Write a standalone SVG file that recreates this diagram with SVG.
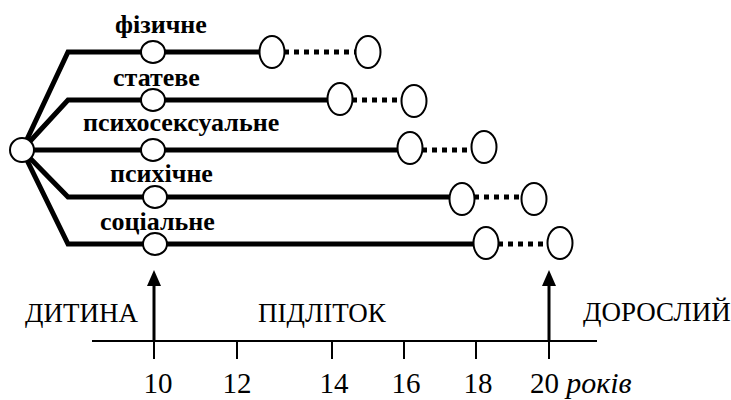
<svg xmlns="http://www.w3.org/2000/svg" width="731" height="400" viewBox="0 0 731 400">
<defs>
<style>
.thick{fill:none;stroke:#000;stroke-width:5;stroke-linejoin:miter}
.dot{fill:none;stroke:#000;stroke-width:5;stroke-dasharray:5 5}
.node{fill:#fff;stroke:#000;stroke-width:2}
.serif{font-family:'Times New Roman',Times,Tinos,'Liberation Serif','Noto Serif','DejaVu Serif',serif;fill:#000}
.lbl{font-weight:bold;font-size:26px}
.age{font-size:27px}
.num{font-size:29px}
.axis{stroke:#000;stroke-width:2;fill:none}
.arr{stroke:#000;stroke-width:3;fill:none}
</style>
</defs>
<g id="connectors">
<polyline class="thick" points="22,150 68,52 272,52"/>
<polyline class="thick" points="22,150 68,100 340,100"/>
<polyline class="thick" points="22,150 410,150"/>
<polyline class="thick" points="22,150 68,197 462,197"/>
<polyline class="thick" points="22,150 68,244 486,244"/>
<line class="dot" x1="284" y1="52" x2="356" y2="52"/>
<line class="dot" x1="352" y1="100" x2="402" y2="100"/>
<line class="dot" x1="422" y1="150" x2="472" y2="150"/>
<line class="dot" x1="474" y1="197" x2="522" y2="197"/>
<line class="dot" x1="498" y1="244" x2="548" y2="244"/>
</g>
<g id="root"><circle class="node" cx="22" cy="150" r="12"/></g>
<g id="physical">
<text class="serif lbl" x="115" y="33">фізичне</text>
<ellipse class="node" cx="153" cy="52" rx="12" ry="11"/>
<ellipse class="node" cx="272" cy="52" rx="12.5" ry="16"/>
<ellipse class="node" cx="368" cy="52" rx="12.5" ry="16"/>
</g>
<g id="sexual">
<text class="serif lbl" x="113" y="86">статеве</text>
<ellipse class="node" cx="153" cy="100" rx="12" ry="11"/>
<ellipse class="node" cx="340" cy="99" rx="12.5" ry="16"/>
<ellipse class="node" cx="414" cy="101" rx="12.5" ry="16"/>
</g>
<g id="psychosexual">
<text class="serif lbl" x="83" y="131">психосексуальне</text>
<ellipse class="node" cx="153" cy="150" rx="12" ry="11"/>
<ellipse class="node" cx="410" cy="148" rx="12.5" ry="16"/>
<ellipse class="node" cx="484" cy="147" rx="12.5" ry="16"/>
</g>
<g id="mental">
<text class="serif lbl" x="110" y="182">психічне</text>
<ellipse class="node" cx="155" cy="197" rx="12" ry="11"/>
<ellipse class="node" cx="462" cy="199" rx="12.5" ry="16"/>
<ellipse class="node" cx="534" cy="199" rx="12.5" ry="16"/>
</g>
<g id="social">
<text class="serif lbl" x="100" y="230">соціальне</text>
<ellipse class="node" cx="155" cy="244" rx="12" ry="11"/>
<ellipse class="node" cx="486" cy="243" rx="12.5" ry="16"/>
<ellipse class="node" cx="560" cy="243" rx="12.5" ry="16"/>
</g>
<g id="timeline">
<line class="axis" x1="92" y1="341" x2="597" y2="341"/>
<line class="axis" x1="154" y1="341" x2="154" y2="359"/>
<line class="axis" x1="237" y1="341" x2="237" y2="359"/>
<line class="axis" x1="332" y1="341" x2="332" y2="359"/>
<line class="axis" x1="404" y1="341" x2="404" y2="359"/>
<line class="axis" x1="476" y1="341" x2="476" y2="359"/>
<line class="axis" x1="549" y1="341" x2="549" y2="359"/>
<line class="arr" x1="154" y1="341" x2="154" y2="284"/>
<path d="M147,286 L154,270 L161,286 Z" fill="#000"/>
<line class="arr" x1="549" y1="341" x2="549" y2="284"/>
<path d="M542,286 L549,270 L556,286 Z" fill="#000"/>
<text class="serif age" x="25" y="322">ДИТИНА</text>
<text class="serif age" x="258" y="322">ПІДЛІТОК</text>
<text class="serif age" x="583" y="321">ДОРОСЛИЙ</text>
<text class="serif num" x="158" y="393" text-anchor="middle">10</text>
<text class="serif num" x="237" y="393" text-anchor="middle">12</text>
<text class="serif num" x="334" y="393" text-anchor="middle">14</text>
<text class="serif num" x="406" y="393" text-anchor="middle">16</text>
<text class="serif num" x="478" y="393" text-anchor="middle">18</text>
<text class="serif num" x="530" y="393">20 <tspan font-style="italic" font-size="30px">років</tspan></text>
</g>
</svg>
